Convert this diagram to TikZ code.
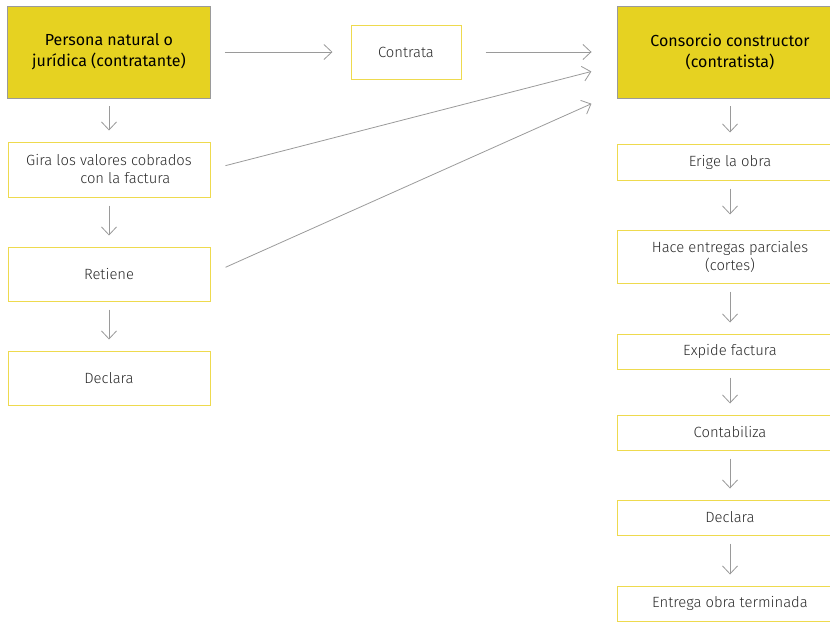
\documentclass[tikz,border=0pt]{standalone}
\usepackage{fontspec}
\setmainfont{Fira Sans}[UprightFont=* Light, BoldFont=*]
\usepackage{xcolor}
\usetikzlibrary{arrows.meta,calc}

\definecolor{cajaamarilla}{HTML}{E6D221}
\definecolor{bordeamarillo}{HTML}{EEDA4E}
\definecolor{gris}{HTML}{9A9A9A}
\definecolor{texto}{HTML}{2B2B2B}

\tikzset{
  actor/.style={rectangle, fill=cajaamarilla, draw=gris, line width=0.9pt,
                minimum height=92pt, inner sep=0pt, align=center,
                font=\fontsize{16}{21}\selectfont\bfseries, text=black},
  paso/.style={rectangle, fill=white, draw=bordeamarillo, line width=1pt,
               inner sep=0pt, align=center,
               font=\fontsize{14.8}{18}\selectfont, text=texto},
  flecha/.style={draw=gris, line width=0.8pt,
                 -{Straight Barb[length=8pt,width=15pt]}},
  baja/.style={flecha, shorten <=8pt, shorten >=11pt}
}

\begin{document}
\begin{tikzpicture}[x=1pt,y=-1pt]
\useasboundingbox (0,0) rectangle (830,622);

% columna del contratante
\node[actor, minimum width=203pt] (persona) at (109,52)
  {Persona natural o\\jurídica (contratante)};
\node[paso, minimum width=202pt, minimum height=55pt] (gira) at (109,169.5)
  {Gira los valores cobrados\\\hspace*{2.2em}con la factura};
\node[paso, minimum width=202pt, minimum height=54pt] (retiene) at (109,274) {Retiene};
\node[paso, minimum width=202pt, minimum height=54pt] (declizq) at (109,378) {Declara};

% contrato
\node[paso, minimum width=110pt, minimum height=54pt] (contrata) at (406,52) {Contrata};

% columna del contratista
\node[actor, minimum width=226pt] (consorcio) at (730,52)
  {Consorcio constructor\\(contratista)};
\node[paso, minimum width=226pt, minimum height=36pt] (erige) at (730,162) {Erige la obra};
\node[paso, minimum width=226pt, minimum height=53pt] (hace) at (730,256.5)
  {Hace entregas parciales\\(cortes)};
\node[paso, minimum width=226pt, minimum height=35pt] (expide) at (730,351.5) {Expide factura};
\node[paso, minimum width=226pt, minimum height=35pt] (contab) at (730,432.5) {Contabiliza};
\node[paso, minimum width=226pt, minimum height=35pt] (declder) at (730,517.5) {Declara};
\node[paso, minimum width=226pt, minimum height=35pt] (entrega) at (730,603.5) {Entrega obra terminada};

% flechas verticales
\draw[baja] (persona) -- (gira);
\draw[baja] (gira) -- (retiene);
\draw[baja] (retiene) -- (declizq);
\draw[baja] (consorcio) -- (erige);
\draw[baja, shorten >=15pt] (erige) -- (hace);
\draw[baja] (hace) -- (expide);
\draw[baja] (expide) -- (contab);
\draw[baja] (contab) -- (declder);
\draw[baja] (declder) -- (entrega);

% flechas hacia el contratista
\draw[flecha, shorten <=14pt, shorten >=18pt] (persona) -- (contrata);
\draw[flecha, shorten <=24pt, shorten >=25pt] (contrata.east) -- (consorcio.west);
\draw[flecha, shorten <=15.5pt, shorten >=26pt] (gira.east) -- ($(consorcio.west)+(0,13)$);
\draw[flecha, shorten <=16.5pt, shorten >=27.5pt] (retiene.east) -- ($(consorcio.west)+(0,40.5)$);
\end{tikzpicture}
\end{document}
